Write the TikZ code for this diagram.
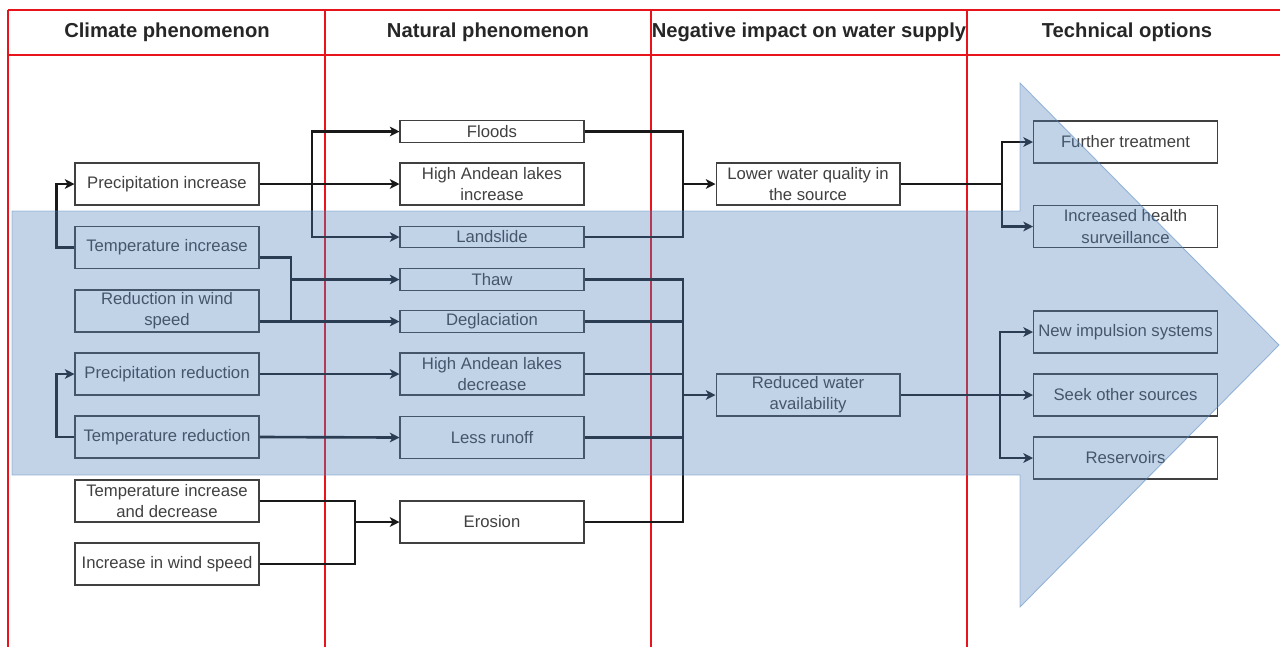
\documentclass[tikz,border=0pt]{standalone}
\usepackage{fontspec}
\setmainfont{Liberation Sans}
\usetikzlibrary{arrows.meta}
\definecolor{arrowblue}{HTML}{4F81BD}
\definecolor{frame}{HTML}{E8141C}

\begin{document}
\begin{tikzpicture}[x=0.02cm,y=-0.02cm,>={Stealth[length=5.5pt,width=5.5pt,inset=1.5pt]},
  box/.style={draw=black!75,fill=white,line width=0.6pt,text=black!75,minimum width=3.68cm,minimum height=0.84cm,inner sep=1pt,align=center,font=\fontsize{9.5}{12}\selectfont},
  slim/.style={box,minimum height=0.43cm},
  hdr/.style={font=\bfseries\fontsize{11.5}{13}\selectfont,text=black!85},
  link/.style={line width=1.5pt,black!90},
  bigarrow/.style={fill=arrowblue,fill opacity=0.35,draw=arrowblue,draw opacity=0.5,line width=0.5pt}]
\useasboundingbox (0,0) rectangle (1280,647);

% table
\draw[frame,line width=1.6pt] (8,10) -- (1280,10) (8,55) -- (1280,55);
\foreach \x in {8,325,651,967}
  \draw[frame,line width=1.6pt] (\x,10) -- (\x,647);
\node[hdr] (h1) at (167,32) {Climate phenomenon};
\node[hdr] (h2) at (488,32) {Natural phenomenon};
\node[hdr] (h3) at (809,32) {Negative impact on water supply};
\node[hdr] (h4) at (1127,32) {Technical options};

% climate phenomenon
\node[box] (pinc) at (167,184) {Precipitation increase};
\node[box] (tinc) at (167,247.5) {Temperature increase};
\node[box] (wred) at (167,311) {Reduction in wind\\speed};
\node[box] (pred) at (167,374) {Precipitation reduction};
\node[box] (tred) at (167,437) {Temperature reduction};
\node[box] (tid) at (167,501) {Temperature increase\\and decrease};
\node[box] (winc) at (167,564) {Increase in wind speed};

% natural phenomenon
\node[slim] (fld) at (492,131.5) {Floods};
\node[box] (lki) at (492,184) {High Andean lakes\\increase};
\node[slim] (lsl) at (492,237) {Landslide};
\node[slim] (thw) at (492,279.5) {Thaw};
\node[slim] (dgl) at (492,321.5) {Deglaciation};
\node[box] (lkd) at (492,374) {High Andean lakes\\decrease};
\node[box] (run) at (492,437.5) {Less runoff};
\node[box] (ero) at (492,522) {Erosion};

% impact
\node[box] (wq) at (808,184) {Lower water quality in\\the source};
\node[box] (wa) at (808,395) {Reduced water\\availability};

% options
\node[box] (trt) at (1125.5,142) {Further treatment};
\node[box] (hlt) at (1125.5,226.5) {Increased health\\surveillance};
\node[box] (imp) at (1125.5,332) {New impulsion systems};
\node[box] (src) at (1125.5,395) {Seek other sources};
\node[box] (res) at (1125.5,458) {Reservoirs};

% links
\draw[link,->] (tinc.west) -- ++(-18,0) |- (pinc.west);
\draw[link,->] (tred.west) -- ++(-18,0) |- (pred.west);
\draw[link,->] (pinc.east) -- (lki.west);
\coordinate (j1) at (312,184);
\draw[link,->] (j1) |- (fld.west);
\draw[link,->] (j1) |- (lsl.west);
\coordinate (j2) at (291,321.5);
\draw[link] ([yshift=-0.2cm]tinc.east) -| (j2);
\draw[link,->] (wred.east |- dgl.west) -- (dgl.west);
\draw[link,->] (j2 |- thw.west) -- (thw.west);
\draw[link,->] (pred.east) -- (lkd.west);
\draw[link,->] (tred.east) -- (run.west);
\coordinate (j3) at (355,522);
\draw[link] (tid.east) -| (j3 |- winc.east) -- (winc.east);
\draw[link,->] (j3) -- (ero.west);

\coordinate (k1) at (683,184);
\draw[link] (fld.east) -| (k1 |- lsl.east) -- (lsl.east);
\draw[link,->] (k1) -- (wq.west);
\coordinate (k2) at (683,395);
\draw[link] (thw.east) -| (k2 |- ero.east) -- (ero.east);
\foreach \n in {dgl,lkd,run}
  \draw[link] (\n.east) -- (k2 |- \n.east);
\draw[link,->] (k2) -- (wa.west);

\coordinate (m1) at (1002,184);
\draw[link] (wq.east) -- (m1);
\draw[link,->] (m1) |- (trt.west);
\draw[link,->] (m1) |- (hlt.west);
\coordinate (m2) at (1000,395);
\draw[link,->] (wa.east) -- (src.west);
\draw[link,->] (m2) |- (imp.west);
\draw[link,->] (m2) |- (res.west);

% big arrow over everything
\path[bigarrow] (12,211) -- (1020,211) -- (1020,83) -- (1279,345) -- (1020,607) -- (1020,475) -- (12,475) -- cycle;
\end{tikzpicture}
\end{document}
